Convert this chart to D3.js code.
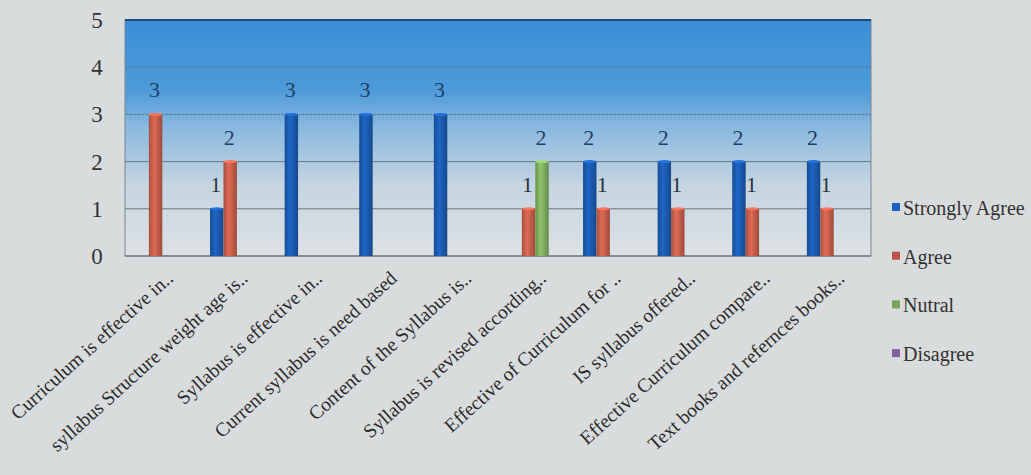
<!DOCTYPE html>
<html><head><meta charset="utf-8">
<script src="https://cdn.jsdelivr.net/npm/d3@7"></script>
<style>
html,body{margin:0;padding:0;background:#d9dcdc;}
svg{display:block;}
</style></head>
<body>
<svg id="chart" width="1031" height="475"></svg>
<script>
const categories = ["Curriculum is effective in..","syllabus Structure weight age is..","Syllabus is effective in..","Current syllabus is need based","Content of the Syllabus is..","Syllabus is revised according..","Effective of Curriculum for ..","IS syllabus offered..","Effective Curriculum compare..","Text books and refernces books.."];
const seriesNames = ["Strongly Agree","Agree","Nutral","Disagree"];
const stronglyAgree = [0,1,3,3,3,0,2,2,2,2];
const agree = [3,2,0,0,0,1,1,1,1,1];
const nutral = [0,0,0,0,0,2,0,0,0,0];
const disagree = [0,0,0,0,0,0,0,0,0,0];
const yTicks = [0,1,2,3,4,5];
const seriesValues = [stronglyAgree, agree, nutral, disagree];
const colors = ["#1c5cb2","#c8604c","#80b062","#8064a2"];
const legendColors = ["#1f5fbf","#c0504d","#7ba35a","#8064a2"];

const svg = d3.select("#chart");
const m = {l:125, t:20, r:871, b:256};
const defs = svg.append("defs");
const bg = defs.append("linearGradient").attr("id","bg").attr("x1",0).attr("y1",0).attr("x2",0).attr("y2",1);
bg.append("stop").attr("offset","0%").attr("stop-color","#3a8ed6");
bg.append("stop").attr("offset","30%").attr("stop-color","#4e9bda");
bg.append("stop").attr("offset","45%").attr("stop-color","#88b8e0");
bg.append("stop").attr("offset","70%").attr("stop-color","#c6d5e1");
bg.append("stop").attr("offset","100%").attr("stop-color","#dde1e4");

colors.forEach((c,i)=>{
  const g = defs.append("linearGradient").attr("id","bar"+i).attr("x1",0).attr("y1",0).attr("x2",1).attr("y2",0);
  const base = d3.color(c);
  g.append("stop").attr("offset","0%").attr("stop-color",base.darker(0.5));
  g.append("stop").attr("offset","40%").attr("stop-color",base.brighter(0.3));
  g.append("stop").attr("offset","100%").attr("stop-color",base.darker(0.7));
});

const x0 = d3.scaleBand().domain(categories).range([m.l, m.r]).padding(0);
const x1 = d3.scaleBand().domain(seriesNames).range([x0.bandwidth()*0.14, x0.bandwidth()*0.86]).padding(0);
const y = d3.scaleLinear().domain([0,5]).range([m.b, m.t]);

svg.append("rect").attr("x",m.l).attr("y",m.t).attr("width",m.r-m.l).attr("height",m.b-m.t)
  .attr("fill","url(#bg)").attr("stroke","#7a8590").attr("stroke-width",1);

// gridlines
svg.append("g").selectAll("line").data(yTicks.filter(d=>d>0 && d<5)).join("line")
  .attr("x1",m.l).attr("x2",m.r).attr("y1",d=>y(d)).attr("y2",d=>y(d))
  .attr("stroke",d=>d>=3?"#5f7890":"#6e767c").attr("stroke-width",1)
  .attr("stroke-dasharray",d=>d>=3?"3,1":null);
// top border
svg.append("line").attr("x1",m.l).attr("x2",m.r).attr("y1",y(5)).attr("y2",y(5)).attr("stroke","#1d4a7a").attr("stroke-width",2);
// baseline
svg.append("line").attr("x1",m.l).attr("x2",m.r).attr("y1",y(0)).attr("y2",y(0)).attr("stroke","#7a8288").attr("stroke-width",1.5);

// y axis labels
svg.append("g").selectAll("text").data(yTicks).join("text")
  .attr("x",97).attr("y",d=>y(d)).attr("dy","0.35em").attr("text-anchor","middle")
  .attr("font-family","Liberation Serif, serif").attr("font-size",23).attr("fill","#333")
  .text(d=>d);

// bars
const data = [];
categories.forEach((c,ci)=>seriesNames.forEach((s,si)=>data.push({c,s,si,v:seriesValues[si][ci]})));
const bw = x1.bandwidth();
svg.append("g").selectAll("rect").data(data.filter(d=>d.v>0)).join("rect")
  .attr("x",d=>x0(d.c)+x1(d.s)).attr("y",d=>y(d.v)).attr("width",bw).attr("height",d=>y(0)-y(d.v))
  .attr("fill",d=>"url(#bar"+d.si+")");
// bar top caps
svg.append("g").selectAll("ellipse").data(data.filter(d=>d.v>0)).join("ellipse")
  .attr("cx",d=>x0(d.c)+x1(d.s)+bw/2).attr("cy",d=>y(d.v)).attr("rx",bw/2).attr("ry",1.5)
  .attr("fill",d=>d3.color(colors[d.si]).brighter(0.6));

// value labels
svg.append("g").selectAll("text").data(data.filter(d=>d.v>0)).join("text")
  .attr("x",d=>x0(d.c)+x1(d.s)+bw/2 - 1).attr("y",d=>y(d.v)-17)
  .attr("text-anchor","middle")
  .attr("font-family","Liberation Serif, serif").attr("font-size",22)
  .attr("fill",d=>d.v>=2?"#1e3f66":"#2a3440")
  .text(d=>d.v);

// x labels
svg.append("g").selectAll("text").data(categories).join("text")
  .attr("transform",d=>`translate(${x0(d)+x0.bandwidth()/2+12},${m.b+24}) rotate(-42)`)
  .attr("text-anchor","end")
  .attr("font-family","Liberation Serif, serif").attr("font-size",19.5).attr("fill","#2a2a2a")
  .text(d=>d);

// legend
const lg = svg.append("g").selectAll("g").data(seriesNames).join("g")
  .attr("transform",(d,i)=>`translate(892,${208+i*48.7})`);
lg.append("rect").attr("x",0).attr("y",-5).attr("width",8).attr("height",8)
  .attr("fill",(d,i)=>legendColors[i]);
lg.append("text").attr("x",11).attr("y",0).attr("dy","0.35em")
  .attr("font-family","Liberation Serif, serif").attr("font-size",20).attr("fill","#333")
  .text(d=>d);
</script>
</body></html>
